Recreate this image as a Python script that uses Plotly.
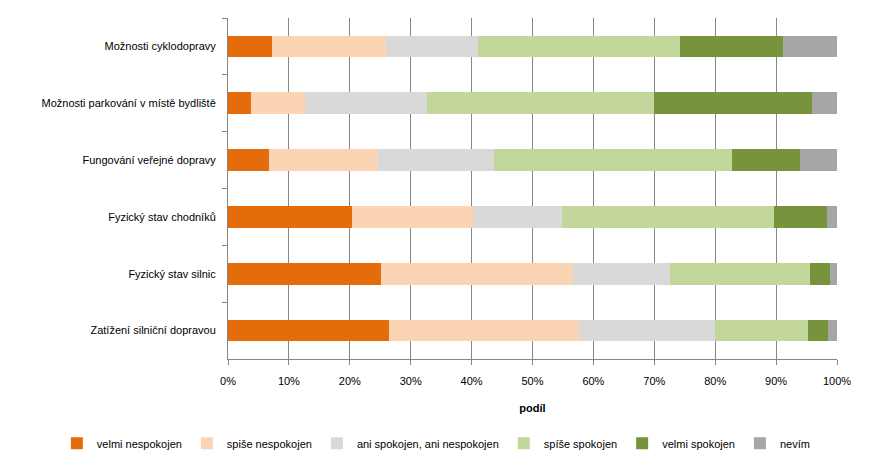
import plotly.graph_objects as go

categories = [
    "Možnosti cyklodopravy",
    "Možnosti parkování v místě bydliště",
    "Fungování veřejné dopravy",
    "Fyzický stav chodníků",
    "Fyzický stav silnic",
    "Zatížení silniční dopravou",
]

series_names = [
    "velmi nespokojen",
    "spiše nespokojen",
    "ani spokojen, ani nespokojen",
    "spíše spokojen",
    "velmi spokojen",
    "nevím",
]

velmi_nespokojen = [7.2, 3.7, 6.7, 20.3, 25.1, 26.5]
spise_nespokojen = [18.7, 9.0, 18.0, 20.0, 31.6, 31.2]
ani_ani = [15.1, 20.0, 18.9, 14.5, 15.8, 22.3]
spise_spokojen = [33.2, 37.3, 39.1, 34.9, 23.1, 15.2]
velmi_spokojen = [16.9, 25.9, 11.3, 8.6, 3.2, 3.4]
nevim = [8.9, 4.1, 6.0, 1.7, 1.2, 1.4]

series_values = [velmi_nespokojen, spise_nespokojen, ani_ani,
                 spise_spokojen, velmi_spokojen, nevim]
colors = ["#E46C0A", "#FBD4B4", "#D9D9D9", "#C3D69B", "#77933C", "#A6A6A6"]

tick_vals = [0, 10, 20, 30, 40, 50, 60, 70, 80, 90, 100]
tick_text = [f"{v}%" for v in tick_vals]

font_family = "Liberation Sans, Arial, sans-serif"

fig = go.Figure()
for name, vals, col in zip(series_names, series_values, colors):
    fig.add_trace(go.Bar(
        y=categories, x=vals, name=name, orientation="h",
        marker=dict(color=col, line=dict(width=0)),
    ))

fig.update_layout(
    barmode="stack",
    bargap=0.62,
    width=873, height=470,
    margin=dict(l=228, r=36, t=18, b=108),
    paper_bgcolor="white", plot_bgcolor="white",
    font=dict(family=font_family, size=11, color="#000000"),
    legend=dict(orientation="h", x=-0.281, xanchor="left",
                xref="paper", yref="paper",
                y=-0.247, yanchor="middle",
                font=dict(size=11), traceorder="normal",
                itemwidth=30),
    showlegend=True,
)

fig.update_xaxes(
    range=[0, 100], tickvals=tick_vals, ticktext=tick_text,
    showgrid=True, gridcolor="#868686", gridwidth=1,
    showline=True, linecolor="#868686", linewidth=1,
    ticks="outside", ticklen=5, tickcolor="#868686",
    zeroline=False, ticklabelstandoff=7,
    title=dict(text="<b>podíl</b>", font=dict(size=11), standoff=18),
)
fig.update_yaxes(
    autorange="reversed",
    showline=True, linecolor="#868686", linewidth=1,
    ticks="outside", ticklen=5, tickcolor="#868686",
    tickson="boundaries", showgrid=False,
    ticklabelstandoff=9,
)

fig.write_html("out.html")
